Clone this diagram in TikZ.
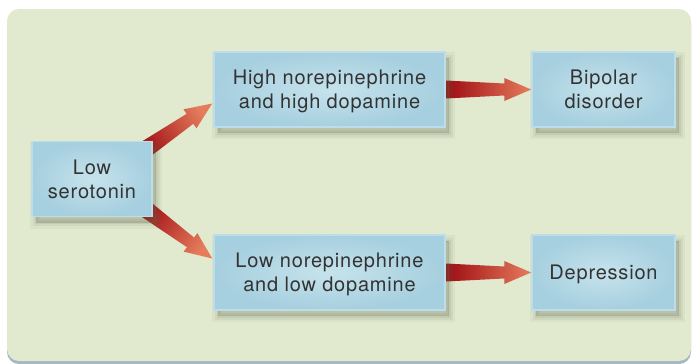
\documentclass[tikz,border=0pt]{standalone}
\usepackage{fontspec}
\setmainfont[LetterSpace=4]{TeX Gyre Heros}
\usepackage{tikz}
\usetikzlibrary{calc}

\definecolor{panelgreen}{HTML}{E1E9CF}
\definecolor{panelshadow}{HTML}{A3B8C0}
\definecolor{boxdark}{HTML}{A6CFDF}
\definecolor{boxlight}{HTML}{C6E3EC}
\definecolor{boxrim}{HTML}{BCDDE9}
\definecolor{boxshade}{HTML}{5F6B4E}
\definecolor{arrowdark}{HTML}{9E0A12}
\definecolor{arrowlight}{HTML}{E57D5C}
\definecolor{textgrey}{HTML}{333333}

\pgfdeclarelayer{panel}
\pgfdeclarelayer{arrows}
\pgfsetlayers{panel,arrows,main}

\tikzset{
  softshadow/.style={
    preaction={draw=boxshade, line width=12pt, draw opacity=0.06, transform canvas={shift={(4pt,-6pt)}}},
    preaction={draw=boxshade, line width=7pt, draw opacity=0.08, transform canvas={shift={(4pt,-6pt)}}},
    preaction={draw=boxshade, line width=3pt, draw opacity=0.10, transform canvas={shift={(4pt,-6pt)}}},
    preaction={fill=boxshade, fill opacity=0.25, transform canvas={shift={(4pt,-6pt)}}}},
  statebox/.style={softshadow, draw=boxrim, line width=1.5pt, inner color=boxlight, outer color=boxdark,
    minimum height=75pt, align=center, text=textgrey, text depth=-2pt,
    font=\fontsize{20}{24}\selectfont},
}

% wide tapered arrow from #1 to #2, #3 = shading angle
\newcommand{\fatarrow}[3]{%
  \shade[left color=arrowdark, right color=arrowlight, shading angle=#3]
    let \p1=(#1), \p2=(#2), \n1={atan2(\y2-\y1,\x2-\x1)}, \n2={veclen(\x2-\x1,\y2-\y1)} in
    [shift={(\p1)}, rotate=\n1]
    (0pt,9pt) -- ({\n2*1pt-27pt},6pt) -- ({\n2*1pt-27pt},11.5pt) -- ({\n2*1pt},0pt)
    -- ({\n2*1pt-27pt},-11.5pt) -- ({\n2*1pt-27pt},-6pt) -- (0pt,-9pt) -- cycle;}

\begin{document}
\begin{tikzpicture}[x=1pt, y=-1pt]
    \useasboundingbox (0,0) rectangle (697,364);

    % Panel
    \begin{pgfonlayer}{panel}
        \fill[panelshadow, rounded corners=12pt] (7,13) rectangle (691,364);
        \fill[panelgreen, rounded corners=12pt] (7,9) rectangle (691,361);
    \end{pgfonlayer}

    % Boxes
    \node[statebox, minimum width=120pt] (low) at (92,179) {Low\\serotonin};
    \node[statebox, minimum width=231pt] (highne) at (329.5,89.5) {High norepinephrine\\and high dopamine};
    \node[statebox, minimum width=231pt] (lowne) at (329.5,272.5) {Low norepinephrine\\and low dopamine};
    \node[statebox, minimum width=143pt] (bipolar) at (603.5,89.5) {Bipolar\\disorder};
    \node[statebox, minimum width=143pt] (depr) at (603.5,272.5) {Depression};

    % Arrows
    \coordinate (up tail) at ($(low.east)+(-14,-25)$);
    \coordinate (up tip) at ($(highne.west)+(-1,14)$);
    \coordinate (down tail) at ($(low.east)+(-14,25)$);
    \coordinate (down tip) at ($(lowne.west)+(-1,-14)$);
    \begin{pgfonlayer}{arrows}
        \fatarrow{up tail}{up tip}{124}
        \fatarrow{down tail}{down tip}{56}
        \fatarrow{highne.east}{bipolar.west}{90}
        \fatarrow{lowne.east}{depr.west}{90}
    \end{pgfonlayer}
\end{tikzpicture}
\end{document}
